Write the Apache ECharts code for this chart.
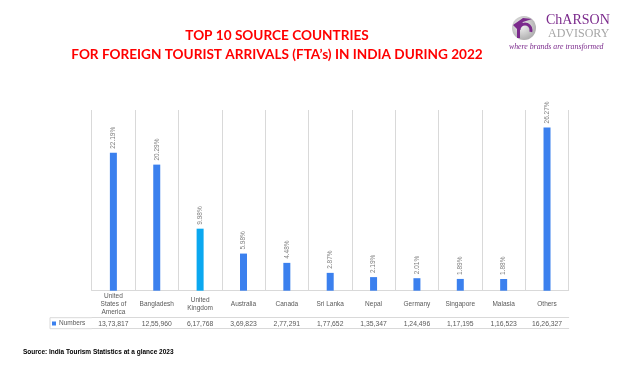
<!DOCTYPE html>
<html><head><meta charset="utf-8">
<script src="https://cdn.jsdelivr.net/npm/echarts@6/dist/echarts.min.js"></script>
<style>html,body{margin:0;padding:0;background:#fff}#c{width:630px;height:370px}</style>
</head><body><div id="c"></div>
<script>
const categories = ['United\nStates of\nAmerica','Bangladesh','United\nKingdom','Australia','Canada','Sri Lanka','Nepal','Germany','Singapore','Malasia','Others'];
const arrivals = [1373817,1255960,617768,369823,277291,177652,135347,124496,117195,116523,1626327];
const sharesPct = ['22.19%','20.29%','9.98%','5.98%','4.48%','2.87%','2.19%','2.01%','1.89%','1.88%','26.27%'];
const seriesName = 'Numbers';
const highlightIndex = 2;

function inFmt(n){
  const s = String(n);
  if (s.length <= 3) return s;
  let last3 = s.slice(-3), rest = s.slice(0,-3);
  rest = rest.replace(/\B(?=(\d{2})+(?!\d))/g, ',');
  return rest + ',' + last3;
}
const chart = echarts.init(document.getElementById('c'), null, {renderer:'canvas'});
const gl = '#d9d9d9';
const txt = '#595959';
const font = 'Liberation Sans, Arial, sans-serif';
chart.setOption({
  animation:false,
  backgroundColor:'#fff',
  title:{
    text:'TOP 10 SOURCE COUNTRIES\nFOR FOREIGN TOURIST ARRIVALS (FTA\u2019s) IN INDIA DURING 2022',
    left:272, top:21, textAlign:'center',
    textStyle:{color:'#ff0000', fontSize:13.6, fontWeight:'bold', fontFamily:'Lato, Open Sans, sans-serif', lineHeight:19}
  },
  legend:{
    data:[seriesName], left:52, top:320, padding:0, icon:'rect', itemWidth:4, itemHeight:4, itemGap:2,
    textStyle:{fontSize:6.5, color:txt, fontFamily:font, padding:[0,0,0,-2]}
  },
  grid:{left:91.7, right:61.3, top:110, bottom:79.3},
  xAxis:[
    {type:'category', data:categories, position:'bottom',
     axisLine:{lineStyle:{color:gl}}, axisTick:{length:38, lineStyle:{color:gl}},
     splitLine:{show:true, lineStyle:{color:gl}},
     axisLabel:{interval:0, margin:14, verticalAlign:'middle', fontSize:6.5, lineHeight:8, color:txt, fontFamily:font}},
    {type:'category', data:categories, position:'bottom', offset:27,
     axisLine:{lineStyle:{color:gl}}, axisTick:{show:false},
     axisLabel:{interval:0, margin:6, verticalAlign:'middle', fontSize:6.8, color:txt, fontFamily:font,
       formatter:(v,i)=>inFmt(arrivals[i])}},
    {type:'category', data:categories, position:'bottom', offset:38,
     axisLine:{lineStyle:{color:gl}}, axisTick:{show:false}, axisLabel:{show:false}}
  ],
  yAxis:{type:'value', min:0, max:1800000, show:false, splitLine:{show:false}},
  series:[{
    name:seriesName, type:'bar', barWidth:7,
    data:arrivals.map((v,i)=> i===highlightIndex ? {value:v, itemStyle:{color:'#0aa8f0'}} : v),
    itemStyle:{color:'#3b80ee'},
    label:{show:true, position:'top', rotate:90, align:'left', verticalAlign:'middle', distance:4,
      fontSize:6.5, color:'#7f7f7f', fontFamily:font, formatter:p=>sharesPct[p.dataIndex]}
  }],
  graphic:[
    {type:'line', shape:{x1:50,y1:317.7,x2:91.7,y2:317.7}, style:{stroke:gl,lineWidth:1}},
    {type:'line', shape:{x1:50,y1:328.7,x2:91.7,y2:328.7}, style:{stroke:gl,lineWidth:1}},
    {type:'line', shape:{x1:50,y1:317.7,x2:50,y2:328.7}, style:{stroke:gl,lineWidth:1}},
    {type:'text', x:23, y:349, style:{text:'Source: India Tourism Statistics at a glance 2023', fill:'#000', font:'bold 6.5px Liberation Sans Narrow, Liberation Sans, Arial'}},
    {type:'circle', shape:{cx:524,cy:28,r:12}, style:{fill:new echarts.graphic.RadialGradient(0.4,0.4,0.8,[{offset:0,color:'#f4f4f4'},{offset:1,color:'#9a9a9a'}])}},
    {type:'arc', shape:{cx:525,cy:30,r:6,startAngle:Math.PI,endAngle:Math.PI*2.1}, style:{stroke:'#7b2a8c',lineWidth:3,fill:null}},
    {type:'polygon', shape:{points:[[513,25],[523,18],[532,19],[523,22],[520,27],[520,38],[517,38],[517,29]]}, style:{fill:'#7b2a8c'}},
    {type:'text', x:546, y:13, style:{text:'ChARSON', fill:'#7b2a8c', font:'14px Liberation Serif, DejaVu Serif, serif'}},
    {type:'text', x:548, y:28, style:{text:'ADVISORY', fill:'#a6a6a6', font:'12px Liberation Serif, DejaVu Serif, serif'}},
    {type:'text', x:509, y:43, style:{text:'where brands are transformed', fill:'#7b2a8c', font:'italic 7.8px Liberation Serif, DejaVu Serif, serif'}}
  ]
});
</script></body></html>
